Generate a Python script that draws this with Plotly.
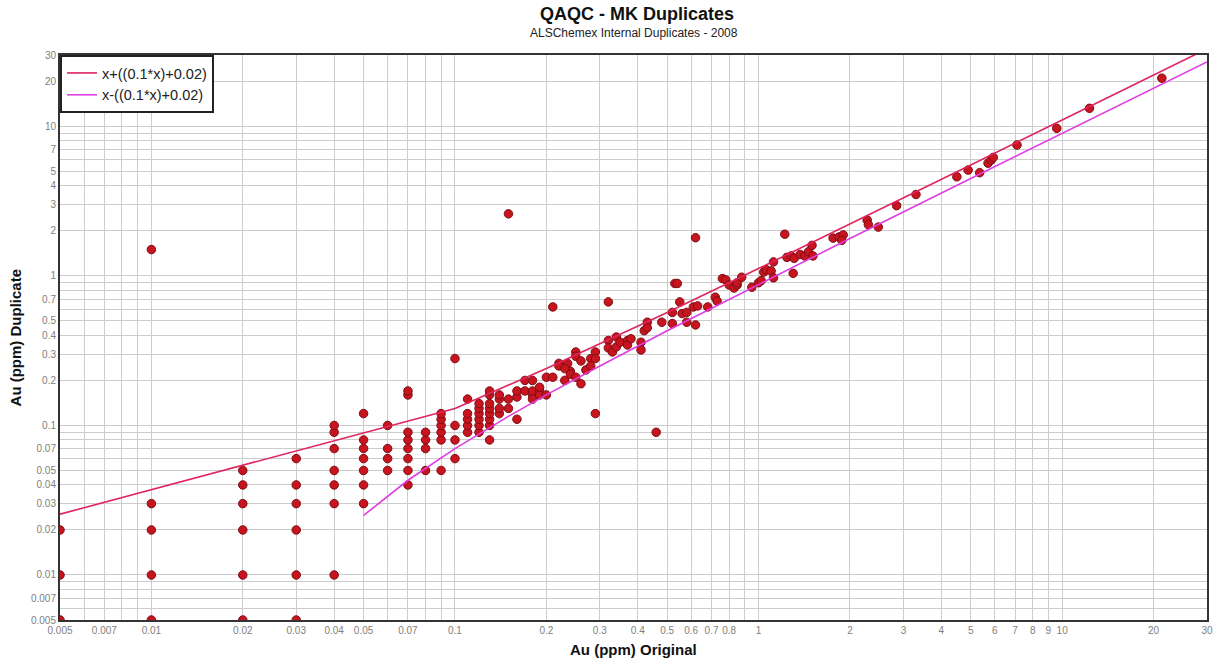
import numpy as np
import plotly.graph_objects as go

# ---- data ----
orig = [
    0.005, 0.005, 0.005,
    0.01, 0.01, 0.01, 0.01, 0.01,
    0.02, 0.02, 0.02, 0.02, 0.02, 0.02,
    0.03, 0.03, 0.03, 0.03, 0.03, 0.03,
    0.04, 0.04, 0.04, 0.04, 0.04, 0.04, 0.04,
    0.05, 0.05, 0.05, 0.05, 0.05, 0.05, 0.05,
    0.06, 0.06, 0.06, 0.06,
    0.07, 0.07, 0.07, 0.07, 0.07, 0.07, 0.07, 0.07,
    0.08, 0.08, 0.08, 0.08,
    0.09, 0.09, 0.09, 0.09, 0.09, 0.09,
    0.1, 0.1, 0.1, 0.1,
    0.11, 0.11, 0.11, 0.11, 0.11,
    0.12, 0.12, 0.12, 0.12, 0.12, 0.12,
    0.13, 0.13, 0.13, 0.13, 0.13, 0.13, 0.13, 0.13,
    0.14, 0.14, 0.14, 0.14,
    0.15, 0.15, 0.15,
    0.16, 0.16, 0.16,
    0.17, 0.17, 0.18, 0.18, 0.18, 0.18, 0.19, 0.19, 0.19,
    0.2, 0.2, 0.21, 0.21,
    0.22, 0.22, 0.23, 0.235, 0.24, 0.23, 0.24,
    0.25, 0.25, 0.25, 0.26, 0.26, 0.27, 0.28, 0.28, 0.29, 0.29, 0.29,
    0.32, 0.32, 0.32, 0.33, 0.34, 0.34, 0.35, 0.37, 0.37, 0.38,
    0.41, 0.41, 0.42, 0.43, 0.43, 0.46, 0.48,
    0.52, 0.52, 0.53, 0.54, 0.55, 0.56, 0.58, 0.58, 0.61, 0.62, 0.63, 0.62,
    0.68, 0.72, 0.73, 0.76, 0.78, 0.8, 0.83, 0.85, 0.85, 0.88, 0.95,
    1.0, 1.02, 1.04, 1.06, 1.1, 1.12, 1.12, 1.22, 1.24, 1.28, 1.31, 1.3,
    1.37, 1.42, 1.46, 1.5, 1.51,
    1.76, 1.84, 1.9, 1.88,
    2.28, 2.3, 2.48, 2.85, 3.3, 4.5, 4.9, 5.35, 5.7, 5.84, 5.93, 7.1, 9.6,
    12.3, 21.3,
]
dup = [
    0.005, 0.01, 0.02,
    0.005, 0.01, 0.02, 0.03, 1.5,
    0.005, 0.01, 0.02, 0.03, 0.04, 0.05,
    0.005, 0.01, 0.02, 0.03, 0.04, 0.06,
    0.01, 0.03, 0.04, 0.05, 0.07, 0.09, 0.1,
    0.03, 0.04, 0.05, 0.06, 0.07, 0.08, 0.12,
    0.05, 0.06, 0.07, 0.1,
    0.04, 0.05, 0.06, 0.07, 0.08, 0.09, 0.16, 0.17,
    0.05, 0.07, 0.08, 0.09,
    0.05, 0.08, 0.09, 0.1, 0.11, 0.12,
    0.06, 0.08, 0.1, 0.28,
    0.09, 0.1, 0.11, 0.12, 0.15,
    0.09, 0.1, 0.11, 0.12, 0.13, 0.14,
    0.08, 0.1, 0.11, 0.12, 0.13, 0.14, 0.16, 0.17,
    0.12, 0.13, 0.15, 0.16,
    0.13, 0.15, 2.6,
    0.11, 0.155, 0.17,
    0.17, 0.2, 0.16, 0.17, 0.2, 0.15, 0.17, 0.16, 0.18,
    0.21, 0.16, 0.21, 0.62,
    0.26, 0.25, 0.2, 0.26, 0.23, 0.24, 0.22,
    0.31, 0.29, 0.21, 0.19, 0.27, 0.235, 0.28, 0.25, 0.31, 0.28, 0.12,
    0.37, 0.33, 0.67, 0.31, 0.39, 0.335, 0.36, 0.37, 0.345, 0.38,
    0.36, 0.32, 0.43, 0.49, 0.45, 0.09, 0.49,
    0.57, 0.48, 0.89, 0.89, 0.67, 0.56, 0.57, 0.49, 0.62, 0.47, 0.63, 1.8,
    0.62, 0.72, 0.68, 0.96, 0.94, 0.87, 0.83, 0.87, 0.9, 0.98, 0.84,
    0.9, 0.93, 1.06, 1.1, 1.08, 1.24, 0.97, 1.9, 1.33, 1.36, 1.31, 1.04,
    1.39, 1.36, 1.45, 1.6, 1.36,
    1.79, 1.82, 1.88, 1.73,
    2.36, 2.2, 2.12, 2.95, 3.5, 4.6, 5.1, 4.9, 5.67, 5.95, 6.2, 7.5, 9.7,
    13.2, 21.0,
]

# control-limit lines (vertices in x; y from the legend formulas)
upper_x = [0.005, 0.1, 0.2, 0.3, 0.5, 1, 2, 5, 10, 30]
lower_x = [0.05, 0.07, 0.1, 0.15, 0.2, 0.3, 0.5, 1, 2, 5, 10, 30]
upper_y = [x + (0.1 * x + 0.02) for x in upper_x]
lower_y = [x - (0.1 * x + 0.02) for x in lower_x]

# ticks
grid_vals = [m * 10.0 ** e for e in range(-3, 2) for m in range(1, 10)]
grid_vals = [v for v in grid_vals if 0.00499 <= v <= 30.01]
x_labels = [0.005, 0.007, 0.01, 0.02, 0.03, 0.04, 0.05, 0.07, 0.1, 0.2, 0.3,
            0.4, 0.5, 0.6, 0.7, 0.8, 1, 2, 3, 4, 5, 6, 7, 8, 9, 10, 20, 30]
y_labels = [0.005, 0.007, 0.01, 0.02, 0.03, 0.04, 0.05, 0.07, 0.1, 0.2, 0.3,
            0.4, 0.5, 0.7, 1, 2, 3, 4, 5, 7, 10, 20, 30]


def text_for(vals, labels):
    out = []
    for v in vals:
        hit = any(abs(v - l) / l < 1e-6 for l in labels)
        out.append(("%g" % round(v, 6)) if hit else "")
    return out


FONT = "Liberation Sans, Arial, sans-serif"

fig = go.Figure()
fig.add_trace(go.Scatter(
    x=orig, y=dup, mode="markers", showlegend=False, hoverinfo="skip",
    marker=dict(size=8.5, color="#c8141f", line=dict(color="#7e0e14", width=1)),
))
fig.add_trace(go.Scatter(
    x=upper_x, y=upper_y, mode="lines", name="x+((0.1*x)+0.02)", hoverinfo="skip",
    line=dict(color="#e0245e", width=1.6),
))
fig.add_trace(go.Scatter(
    x=lower_x, y=lower_y, mode="lines", name="x-((0.1*x)+0.02)", hoverinfo="skip",
    line=dict(color="#e03ce0", width=1.6),
))

axis_common = dict(
    type="log",
    range=[np.log10(0.005), np.log10(30)],
    tickmode="array",
    tickvals=grid_vals,
    showgrid=True, gridcolor="#cccccc", gridwidth=1,
    showline=True, mirror=True, linecolor="#333333", linewidth=2,
    ticks="", zeroline=False, automargin=False,
    tickfont=dict(family=FONT, size=10, color="#808080"),
)
fig.update_xaxes(**axis_common, ticktext=text_for(grid_vals, x_labels))
fig.update_yaxes(**axis_common, ticktext=text_for(grid_vals, y_labels))

fig.update_layout(
    width=1217, height=664,
    margin=dict(l=60, r=10, t=55, b=44),
    paper_bgcolor="white", plot_bgcolor="white",
    font=dict(family=FONT),
    hovermode=False,
    legend=dict(x=0, y=1, xanchor="left", yanchor="top",
                bgcolor="white", bordercolor="#222222", borderwidth=2,
                font=dict(family=FONT, size=14.5, color="#222222"),
                tracegroupgap=0, itemwidth=30),
    annotations=[
        dict(text="<b>QAQC - MK Duplicates</b>", xref="paper", yref="paper",
             x=0.503, y=1.0726, xanchor="center", yanchor="middle",
             showarrow=False, font=dict(family=FONT, size=18, color="#111111")),
        dict(text="ALSChemex Internal Duplicates - 2008", xref="paper", yref="paper",
             x=0.5, y=1.039, xanchor="center", yanchor="middle",
             showarrow=False, font=dict(family=FONT, size=12, color="#222222")),
        dict(text="<b>Au (ppm) Original</b>", xref="paper", yref="paper",
             x=0.5, y=-0.053, xanchor="center", yanchor="middle",
             showarrow=False, font=dict(family=FONT, size=15, color="#111111")),
        dict(text="<b>Au (ppm) Duplicate</b>", xref="paper", yref="paper",
             x=-0.0384, y=0.5, xanchor="center", yanchor="middle", textangle=-90,
             showarrow=False, font=dict(family=FONT, size=15, color="#111111")),
    ],
)

fig.write_html(
    "out.html",
    config={"displayModeBar": False},
    post_script="document.body.style.margin='0';document.body.style.overflow='hidden';",
)
